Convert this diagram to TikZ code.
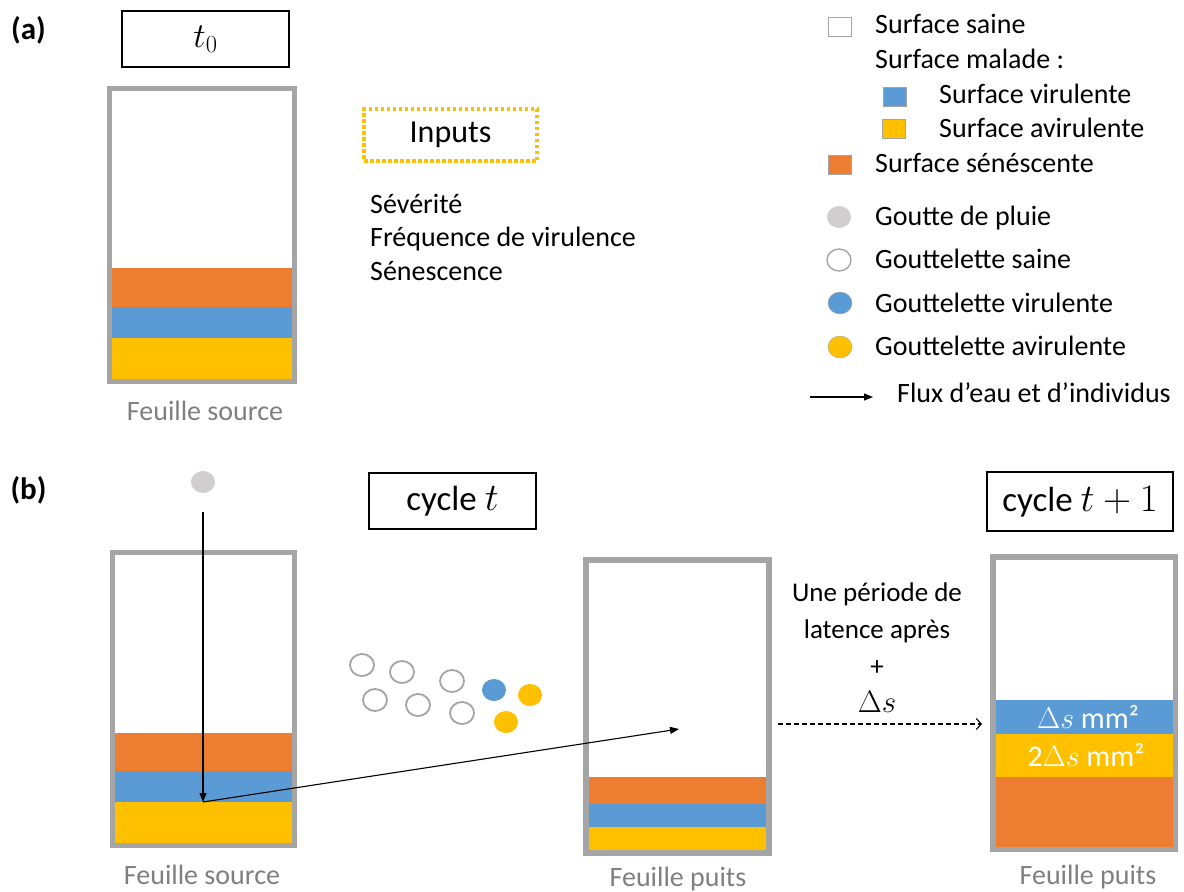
\documentclass[tikz,border=0pt]{standalone}
\usepackage{fix-cm}
\usepackage{fontspec}
\setmainfont{Carlito}
\usetikzlibrary{positioning,arrows.meta,shapes.geometric}
\definecolor{sen}{HTML}{ED7D31}
\definecolor{vir}{HTML}{5B9BD5}
\definecolor{avir}{HTML}{FFC000}
\definecolor{leafgray}{HTML}{A5A5A5}
\definecolor{raingray}{HTML}{D0CECE}
\definecolor{labelgray}{HTML}{7F7F7F}

\begin{document}
\begin{tikzpicture}[x=1pt, y=1pt,
  txt/.style={font=\fontsize{28}{34}\selectfont, inner sep=0pt},
  leafcap/.style={txt, text=labelgray},
  tbox/.style={draw, line width=1.3pt, minimum width=167pt, minimum height=56pt, font=\fontsize{35}{40}\selectfont},
  leafshape/.style={inner sep=0pt, outer sep=0pt},
  leaf/.style={draw=leafgray, line width=5.5pt},
  sq/.style={draw=leafgray, line width=0.8pt, minimum width=23pt, minimum height=19pt, inner sep=0pt},
  drop/.style={ellipse, minimum width=24pt, minimum height=22pt, inner sep=0pt},
  hole/.style={drop, draw=leafgray, line width=1.8pt, fill=white},
  arr/.style={-{Triangle[length=9pt, width=7pt]}, line width=1.1pt},
  lat/.style={-{Straight Barb[length=5pt, width=11pt]}, line width=1.1pt, dash pattern=on 5pt off 3pt}]
  \useasboundingbox (0,0) rectangle (1184,-892);

  % (a)
  \node[txt, font=\fontsize{31}{34}\selectfont\bfseries] (la) at (28.5,-30) {(a)};
  \node[tbox] (t0) at (205.5,-39) {$\mathsurround=0pt\fontsize{39}{40}\selectfont t_0$};
  \node[leafshape, minimum width=185pt, minimum height=293pt] (srcA) at (202,-235) {};
  \fill[avir] (srcA.south west) rectangle (srcA.east |- 0,-338);
  \fill[vir] (srcA.west |- 0,-338) rectangle (srcA.east |- 0,-307);
  \fill[sen] (srcA.west |- 0,-307) rectangle (srcA.east |- 0,-268);
  \draw[leaf] (srcA.south west) rectangle (srcA.north east);
  \node[leafcap] (capA) at (205,-411) {Feuille source};

  \node[txt, draw=avir, line width=3.2pt, dash pattern=on 3.5pt off 2.5pt, minimum width=173pt, minimum height=52pt, font=\fontsize{32}{36}\selectfont] (inputs) at (450.5,-135) {Inputs};
  \node[txt, anchor=north west, align=left, font=\fontsize{28}{33.5}\selectfont] (inlist) at (370,-194) {Sévérité\\Fréquence de virulence\\Sénescence};

  % legende
  \node[sq, fill=white] (kS) at (839.5,-26.5) {};
  \node[txt, anchor=base west] (kSt) at (875,-33) {Surface saine};
  \node[txt, anchor=base west] (kMt) at (875,-68) {Surface malade :};
  \node[sq, fill=vir] (kV) at (895,-97) {};
  \node[txt, anchor=base west] (kVt) at (939,-103) {Surface virulente};
  \node[sq, fill=avir] (kA) at (894,-128.5) {};
  \node[txt, anchor=base west] (kAt) at (939,-137) {Surface avirulente};
  \node[sq, fill=sen] (kN) at (839.5,-164.5) {};
  \node[txt, anchor=base west] (kNt) at (875,-172) {Surface sénéscente};
  \node[drop, fill=raingray] (kR) at (839,-217) {};
  \node[txt, anchor=base west] (kRt) at (875,-225) {Goutte de pluie};
  \node[hole, line width=1.4pt] (kH) at (839,-260) {};
  \node[txt, anchor=base west] (kHt) at (875,-268) {Gouttelette saine};
  \node[drop, draw=leafgray, fill=vir] (kDV) at (840,-303) {};
  \node[txt, anchor=base west] (kDVt) at (875,-312) {Gouttelette virulente};
  \node[drop, draw=leafgray, fill=avir] (kDA) at (840,-347) {};
  \node[txt, anchor=base west] (kDAt) at (875,-355) {Gouttelette avirulente};
  \coordinate (kF0) at (810,-397);
  \coordinate (kF1) at (873,-397);
  \draw[arr] (kF0) -- (kF1);
  \node[txt, anchor=base west] (kFt) at (897,-402) {Flux d’eau et d’individus};

  % (b)
  \node[txt, font=\fontsize{31}{34}\selectfont\bfseries] (lb) at (28.5,-490) {(b)};
  \node[tbox] (cyc) at (452.5,-501) {cycle {\fontsize{39}{40}\selectfont$t$}};
  \node[tbox, minimum width=186pt, minimum height=59pt] (cycN) at (1080,-501.5) {cycle {\fontsize{39}{40}\selectfont$t+1$}};

  \node[leafshape, minimum width=182pt, minimum height=293pt] (srcB) at (203.5,-699) {};
  \fill[avir] (srcB.south west) rectangle (srcB.east |- 0,-802);
  \fill[vir] (srcB.west |- 0,-802) rectangle (srcB.east |- 0,-771);
  \fill[sen] (srcB.west |- 0,-771) rectangle (srcB.east |- 0,-733);
  \draw[leaf] (srcB.south west) rectangle (srcB.north east);
  \node[leafcap] (capB) at (202,-875) {Feuille source};

  \node[leafshape, minimum width=183pt, minimum height=293pt] (sink) at (677.5,-706.5) {};
  \fill[avir] (sink.south west) rectangle (sink.east |- 0,-827);
  \fill[vir] (sink.west |- 0,-827) rectangle (sink.east |- 0,-804);
  \fill[sen] (sink.west |- 0,-804) rectangle (sink.east |- 0,-777);
  \draw[leaf] (sink.south west) rectangle (sink.north east);
  \node[leafcap] (capS) at (678,-879) {Feuille puits};

  \node[leafshape, minimum width=182.5pt, minimum height=292.5pt] (sinkN) at (1084.25,-703.25) {};
  \fill[sen] (sinkN.south west) rectangle (sinkN.east |- 0,-777);
  \fill[avir] (sinkN.west |- 0,-777) rectangle (sinkN.east |- 0,-734);
  \fill[vir] (sinkN.west |- 0,-734) rectangle (sinkN.east |- 0,-700);
  \draw[leaf] (sinkN.south west) rectangle (sinkN.north east);
  \node[txt, text=white, font=\fontsize{30}{34}\selectfont] (ds1) at (1088,-717) {$\Delta s$ mm²};
  \node[txt, text=white, font=\fontsize{30}{34}\selectfont] (ds2) at (1086,-755) {2$\Delta s$ mm²};
  \node[leafcap] (capN) at (1088,-877) {Feuille puits};

  \node[drop, fill=raingray] (rain) at (203,-482) {};
  \coordinate (hit) at (203,-802);
  \coordinate (land) at (679,-729);
  \draw[arr] ([yshift=-19pt]rain.south) -- (hit);
  \draw[arr] (hit) -- (land);

  \foreach \x/\y [count=\i] in {362/665, 402/672, 452/681, 375/700, 418/705, 462/713}
    \node[hole] (g\i) at (\x,-\y) {};
  \node[drop, fill=vir] (gv) at (494,-690) {};
  \node[drop, fill=avir] (ga1) at (530,-695) {};
  \node[drop, fill=avir] (ga2) at (506,-722) {};

  \node[txt, align=center, font=\fontsize{27}{37}\selectfont] (latence) at (877,-648) {Une période de\\latence après\\+\\{\fontsize{31}{37}\selectfont$\Delta s$}};
  \coordinate (lat0) at (778,-724);
  \coordinate (lat1) at (982,-724);
  \draw[lat] (lat0) -- (lat1);
\end{tikzpicture}
\end{document}
